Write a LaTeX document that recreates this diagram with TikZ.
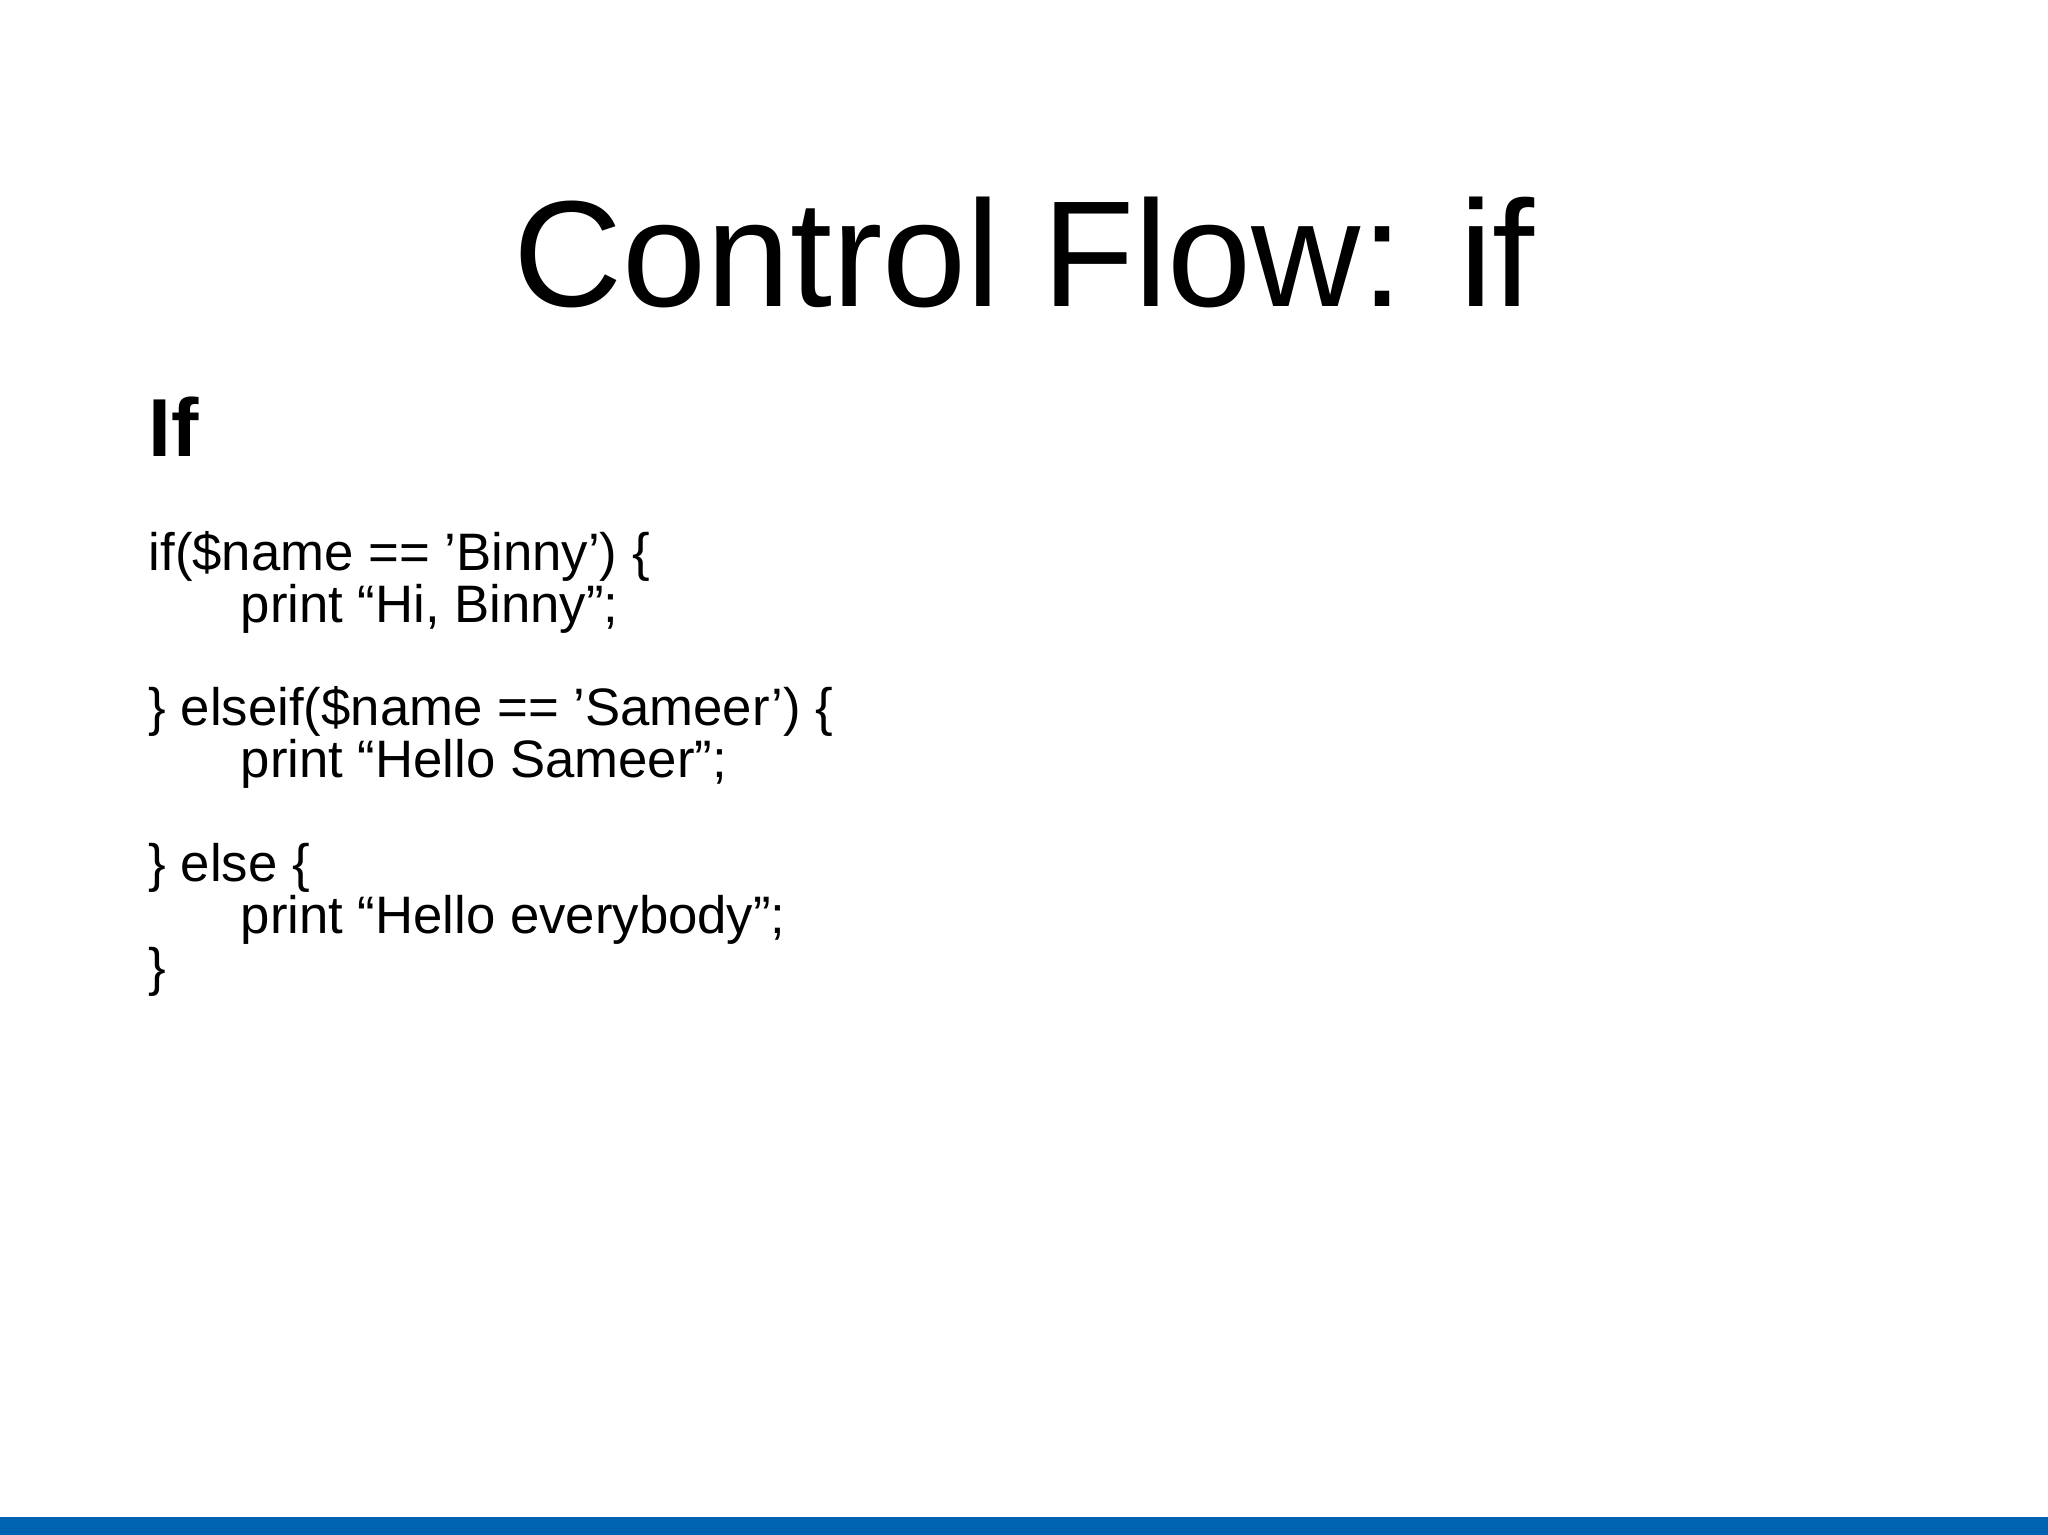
\documentclass[tikz,border=0pt]{standalone}
\usepackage{fontspec}
\setmainfont{Liberation Sans}
\definecolor{barblue}{RGB}{0,99,177}
\begin{document}
\begin{tikzpicture}[x=1cm,y=1cm,
  code/.style={anchor=base west,inner sep=0pt,font=\fontsize{15pt}{18pt}\selectfont}]
\useasboundingbox (0,0) rectangle (20.48,15.35);
\fill[barblue] (0,0) rectangle (20.48,0.18);
\node[anchor=base,inner sep=0pt,font=\fontsize{43pt}{50pt}\selectfont] (title) at (10.24,12.28) {Control Flow: if};
\node[anchor=base west,inner sep=0pt,font=\fontsize{23.4pt}{28pt}\selectfont\bfseries] (head) at (1.48,10.78) {If};
\node[code] (l1) at (1.48,9.64) {if(\$name == 'Binny') \{};
\node[code] (l2) at (2.40,9.12) {print “Hi, Binny”;};
\node[code] (l3) at (1.48,8.09) {\} elseif(\$name == 'Sameer') \{};
\node[code] (l4) at (2.40,7.57) {print “Hello Sameer”;};
\node[code] (l5) at (1.48,6.53) {\} else \{};
\node[code] (l6) at (2.40,6.01) {print “Hello everybody”;};
\node[code] (l7) at (1.48,5.49) {\}};
\end{tikzpicture}
\end{document}
